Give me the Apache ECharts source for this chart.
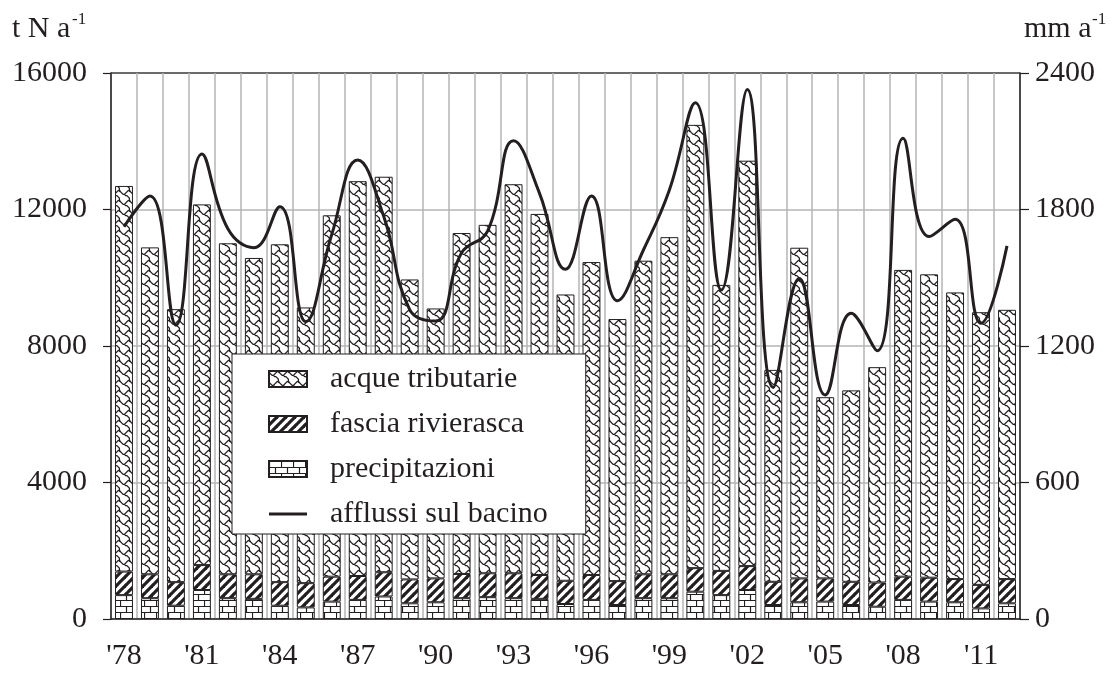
<!DOCTYPE html>
<html>
<head>
<meta charset="utf-8">
<script src="https://cdn.jsdelivr.net/npm/echarts@6/dist/echarts.min.js"></script>
<style>
  html, body { margin: 0; padding: 0; background: #fff; }
  #chart { width: 1114px; height: 676px; }
</style>
</head>
<body>
<div id="chart"></div>
<script>
// Nitrogen loads (t N/a) by source, and basin inflow (mm/a), 1978-2012
const years = ["'78","'79","'80","'81","'82","'83","'84","'85","'86","'87","'88","'89","'90","'91","'92","'93","'94","'95","'96","'97","'98","'99","'00","'01","'02","'03","'04","'05","'06","'07","'08","'09","'10","'11","'12"];

const precipitazioni = [700,610,390,850,610,590,390,340,510,560,660,460,490,610,640,610,590,440,560,410,610,610,800,700,850,410,490,510,410,360,560,510,490,310,460];

const fasciaRivierasca = [690,700,690,730,700,720,690,710,730,700,710,700,700,710,700,730,700,680,730,700,700,700,690,710,700,680,700,680,680,710,680,700,680,690,710];

const acqueTributarie = [11300,9580,8000,10570,9700,9270,9900,8080,10590,11570,11590,8790,7910,9990,10210,11400,10580,8390,9170,7680,9190,9880,12990,8380,11880,6210,9690,5310,5610,6310,8990,8890,8400,7990,7890];

const afflussi = [1724,1859,1292,2044,1715,1632,1812,1307,1690,2018,1770,1360,1310,1610,1705,2102,1871,1537,1859,1399,1622,1886,2269,1446,2328,1018,1497,985,1344,1179,2113,1681,1757,1300,1640];

const leftTicks = { min: 0, max: 16000, interval: 4000 };
const rightTicks = { min: 0, max: 2400, interval: 600 };

const INK = '#231f20';
const GRID = '#b5b5b5';
const FONT = '"Liberation Serif", "DejaVu Serif", serif';

// ---- fill patterns -------------------------------------------------------
function tile(w, h, draw) {
  const c = document.createElement('canvas');
  c.width = w; c.height = h;
  const ctx = c.getContext('2d');
  ctx.fillStyle = '#fff';
  ctx.fillRect(0, 0, w, h);
  ctx.strokeStyle = INK;
  draw(ctx, w, h);
  return c;
}

// shingle texture
const shingle = tile(10, 10, (ctx) => {
  const s = 1.25;
  const wave = [[-1,0],[0,1],[1,2],[2,3],[3,3],[4,2],[5,1],[6,0],[7,0],[8,1]];
  const branch = [[3,3],[4,4],[5,4],[6,5],[7,6],[7,7],[7,8]];
  ctx.lineWidth = 1.35;
  ctx.lineJoin = 'round';
  for (const dx of [-8, 0, 8]) {
    for (const dy of [-8, 0, 8]) {
      for (const pts of [wave, branch]) {
        ctx.beginPath();
        pts.forEach((p, i) => {
          const x = (p[0] + dx + 0.5) * s, y = (p[1] + dy + 0.5) * s;
          if (i === 0) ctx.moveTo(x, y); else ctx.lineTo(x, y);
        });
        ctx.stroke();
      }
    }
  }
});

// wide upward diagonal stripes
const diagonal = tile(9, 9, (ctx, w, h) => {
  ctx.lineWidth = 3.2;
  for (const k of [-w, 0, w]) {
    ctx.beginPath();
    ctx.moveTo(k - 1, h + 1);
    ctx.lineTo(k + w + 1, -1);
    ctx.stroke();
  }
});

// horizontal brick
const brick = tile(12, 12, (ctx) => {
  ctx.lineWidth = 1.2;
  ctx.beginPath();
  ctx.moveTo(0, 0.5); ctx.lineTo(12, 0.5);
  ctx.moveTo(0, 6.5); ctx.lineTo(12, 6.5);
  ctx.moveTo(0.5, 0); ctx.lineTo(0.5, 6.5);
  ctx.moveTo(6.5, 6.5); ctx.lineTo(6.5, 12);
  ctx.stroke();
});

const pat = (c) => ({ image: c, repeat: 'repeat' });

// ---- chart --------------------------------------------------------------
const chart = echarts.init(document.getElementById('chart'), null, { renderer: 'canvas' });

const barStyle = (c) => ({ color: pat(c), borderColor: INK, borderWidth: 1 });
const plain = (v) => String(v);

chart.setOption({
  animation: false,
  backgroundColor: '#fff',
  textStyle: { fontFamily: FONT, color: INK },
  grid: { left: 111, right: 94, top: 73, bottom: 57, containLabel: false },
  legend: {
    orient: 'vertical',
    left: 232,
    top: 354,
    backgroundColor: '#fff',
    borderColor: INK,
    borderWidth: 1,
    padding: [10, 38, 5, 36],
    itemWidth: 38,
    itemHeight: 16,
    itemGap: 15,
    textStyle: { fontFamily: FONT, fontSize: 30, color: INK, padding: [0, 0, 0, 18] },
    data: [
      { name: 'acque tributarie', icon: 'rect' },
      { name: 'fascia rivierasca', icon: 'rect' },
      { name: 'precipitazioni', icon: 'rect' },
      {
        name: 'afflussi sul bacino',
        icon: 'path://M0,0H38V3H0Z',
        itemStyle: { color: INK, borderWidth: 0 }
      }
    ]
  },
  xAxis: {
    type: 'category',
    data: years,
    boundaryGap: true,
    axisLine: { lineStyle: { color: INK, width: 1.5 } },
    axisTick: { interval: 0, length: 8, lineStyle: { color: INK, width: 1.2 } },
    axisLabel: { interval: 2, fontFamily: FONT, fontSize: 30, color: INK, margin: 22 },
    splitLine: { show: true, interval: 0, lineStyle: { color: GRID, width: 1.5 } }
  },
  yAxis: [
    {
      type: 'value',
      min: leftTicks.min, max: leftTicks.max, interval: leftTicks.interval,
      axisLine: { show: true, lineStyle: { color: INK, width: 1.5 } },
      axisTick: { show: true, length: 8, lineStyle: { color: INK, width: 1.2 } },
      axisLabel: { fontFamily: FONT, fontSize: 30, color: INK, margin: 24, formatter: plain },
      splitLine: { show: true, lineStyle: { color: [GRID, GRID, GRID, GRID, '#3a3a3a'], width: 1.5 } }
    },
    {
      type: 'value',
      min: rightTicks.min, max: rightTicks.max, interval: rightTicks.interval,
      axisLine: { show: true, lineStyle: { color: INK, width: 1.5 } },
      axisTick: { show: true, length: 9, lineStyle: { color: INK, width: 1.2 } },
      axisLabel: { fontFamily: FONT, fontSize: 30, color: INK, margin: 15, formatter: plain },
      splitLine: { show: false }
    }
  ],
  series: [
    {
      name: 'precipitazioni', type: 'bar', stack: 'carico',
      data: precipitazioni, barCategoryGap: '31%',
      itemStyle: barStyle(brick)
    },
    {
      name: 'fascia rivierasca', type: 'bar', stack: 'carico',
      data: fasciaRivierasca,
      itemStyle: barStyle(diagonal)
    },
    {
      name: 'acque tributarie', type: 'bar', stack: 'carico',
      data: acqueTributarie,
      itemStyle: barStyle(shingle)
    },
    {
      name: 'afflussi sul bacino', type: 'line', yAxisIndex: 1,
      data: afflussi, smooth: 0.45, symbol: 'none', z: 3,
      lineStyle: { color: INK, width: 3 },
      itemStyle: { color: INK }
    }
  ],
  graphic: [
    { type: 'text', left: 12, top: 14, style: { text: 't N a', font: '30px ' + FONT, fill: INK } },
    { type: 'text', left: 72, top: 11, style: { text: '-1', font: '17px ' + FONT, fill: INK } },
    { type: 'text', left: 1024, top: 14, style: { text: 'mm a', font: '30px ' + FONT, fill: INK } },
    { type: 'text', left: 1092, top: 11, style: { text: '-1', font: '17px ' + FONT, fill: INK } }
  ]
});
</script>
</body>
</html>
